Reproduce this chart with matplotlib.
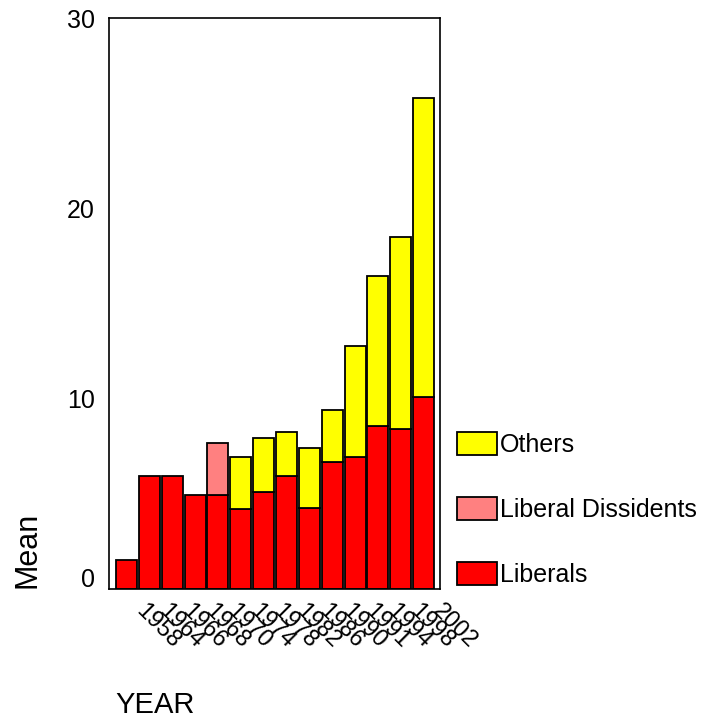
import numpy as np
import matplotlib
matplotlib.use('Agg')
import matplotlib.pyplot as plt
import matplotlib.transforms as mtransforms

plt.rcParams['font.family'] = ['Liberation Sans', 'DejaVu Sans']

years = ['1958', '1964', '1966', '1968', '1970', '1974', '1978',
         '1982', '1986', '1990', '1991', '1994', '1998', '2002']
liberals = [1.53, 5.92, 5.92, 4.95, 4.95, 4.19, 5.09,
            5.94, 4.26, 6.69, 6.93, 8.58, 8.42, 10.09]
dissidents = [0, 0, 0, 0, 2.73, 0, 0, 0, 0, 0, 0, 0, 0, 0]
others = [0, 0, 0, 0, 0, 2.72, 2.82, 2.30, 3.15, 2.72, 5.82, 7.85, 10.08, 15.7]

fig = plt.figure(figsize=(7.17, 7.26), dpi=100)
ax = fig.add_axes([0.152, 0.189, 0.462, 0.786])

x = np.arange(len(years))
lib = np.array(liberals)
dis = np.array(dissidents)
oth = np.array(others)

kw = dict(width=0.92, edgecolor='black', linewidth=1.3)
b1 = ax.bar(x, lib, color='#ff0000', label='Liberals', **kw)
b2 = ax.bar(x[dis > 0], dis[dis > 0], bottom=lib[dis > 0], color='#ff8080',
            label='Liberal Dissidents', **kw)
b3 = ax.bar(x[oth > 0], oth[oth > 0], bottom=(lib + dis)[oth > 0],
            color='#ffff00', label='Others', **kw)

ax.set_xlim(-0.77, 13.73)
ax.set_ylim(0, 30)
ax.set_yticks([0, 10, 20, 30])
ax.tick_params(axis='y', length=0, labelsize=18, pad=10)
ax.tick_params(axis='x', length=0, labelsize=17, pad=14)
ax.set_xticks(x)
ax.set_xticklabels(years, rotation=-45, ha='left', va='center',
                   rotation_mode='anchor')
offset = mtransforms.ScaledTranslation(13 / 100, 0, fig.dpi_scale_trans)
for lbl in ax.get_xticklabels():
    lbl.set_transform(lbl.get_transform() + offset)
# the zero label sits a little above the axis line
ylbl = ax.get_yticklabels()[0]
ylbl.set_transform(ylbl.get_transform() +
                   mtransforms.ScaledTranslation(0, 11 / 100, fig.dpi_scale_trans))
for s in ax.spines.values():
    s.set_linewidth(1.2)

fig.text(27 / 717, 1 - 550 / 726, 'Mean', rotation=90, fontsize=22,
         ha='center', va='center')
fig.text(155 / 717, 1 - 705 / 726, 'YEAR', fontsize=21,
         ha='center', va='center')

leg = ax.legend(handles=[b3, b2, b1], loc='lower left',
                bbox_to_anchor=(1.019, -0.015), frameon=False, fontsize=18,
                handlelength=1.6, handleheight=1.05, handletextpad=0.15,
                labelspacing=1.6, borderaxespad=0)

fig.savefig('out.png', dpi=100)
